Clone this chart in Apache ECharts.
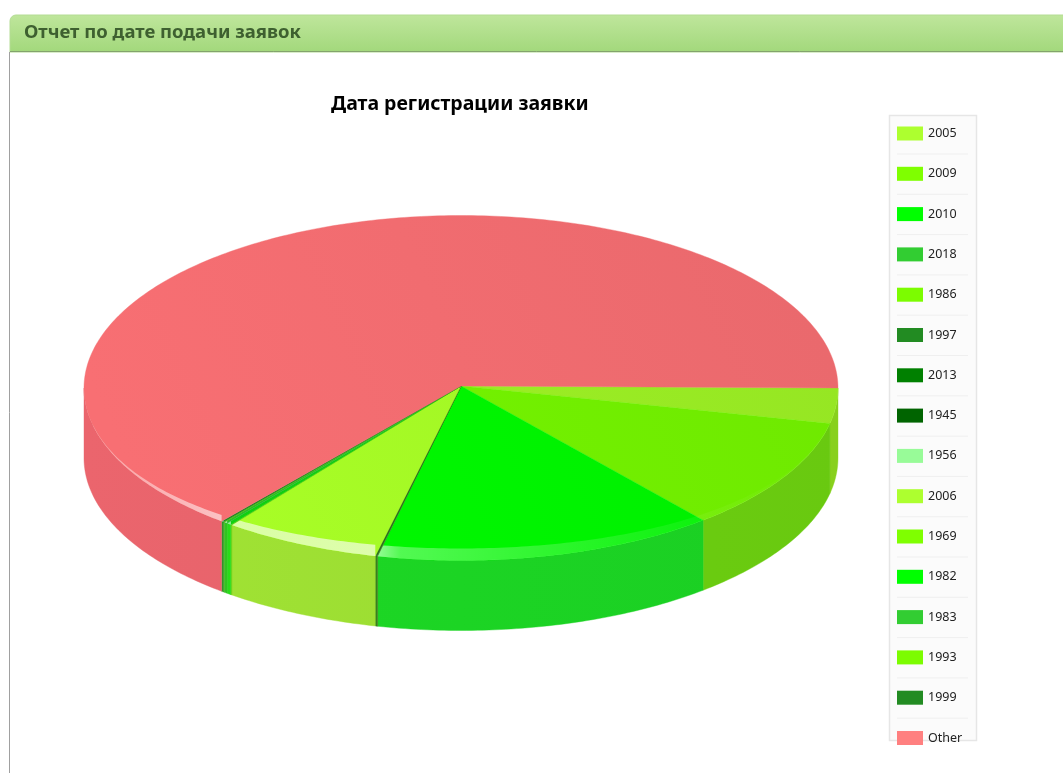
<!DOCTYPE html>
<html>
<head>
<meta charset="utf-8">
<title>Отчет по дате подачи заявок</title>
<style>
html,body{margin:0;padding:0;background:#fff}
#chart{width:1063px;height:773px}
</style>
<script src="https://cdn.jsdelivr.net/npm/echarts@6/dist/echarts.min.js"></script>
</head>
<body>
<div id="chart"></div>
<script>
// Share of applications per registration year, in percent
const years = ['2005','2009','2010','2018','1986','1997','2013','1945','1956','2006','1969','1982','1983','1993','1999','Other'];
const shares = [3.3,10.6,14.65,0.03,0.01,0.02,0.02,0.01,0.01,6.75,0.05,0.2,0.15,0.05,0.1,64.05];
// Legend swatches, then the slightly deeper tones of the lit top face and the shaded wall
const legendColors = ['#adff2f','#7fff00','#00ff00','#32cd32','#7cfc00','#228b22','#008000','#006400','#98fb98','#adff2f','#7fff00','#00ff00','#32cd32','#7cfc00','#228b22','#ff8080'];
const faceColors = ['#9bed24','#72f000','#00f400','#3c7a20','#3c7a20','#2a7020','#1c6a18','#1c6a18','#3c7a20','#a4f825','#5fd000','#10cc10','#28b828','#50c800','#1f8020','#f16c70'];
const wallColors = ['#8cd61e','#6ccf10','#1cd424','#4a8a20','#4a8a20','#3a8020','#2c7a1c','#2c7a1c','#4a8a20','#9cdd32','#6cd010','#28d818','#30c020','#40b018','#2f9428','#e4626a'];

const titleText = 'Дата регистрации заявки';
const headerText = 'Отчет по дате подачи заявок';

// Projection of the disc: tilted ellipse with a wall below its front half
const CX = 461, CY = 388, RX = 377, RY = 172.5, DEPTH = 70, GLARE = 12;

const total = shares.reduce((a, b) => a + b, 0);
const starts = [];
shares.reduce((acc, v, i) => { starts[i] = acc; return acc + v; }, 0);
const toAngle = s => s / total * Math.PI * 2;

function rim(t, ry, dy) {
  return [CX + RX * Math.cos(t), CY + ry * Math.sin(t) + (dy || 0)];
}
function arcAngles(a, b) {
  const n = Math.max(2, Math.ceil((b - a) / 0.015));
  const out = [];
  for (let i = 0; i <= n; i++) out.push(a + (b - a) * i / n);
  return out;
}
function shade(hex, f) {
  const n = parseInt(hex.slice(1), 16);
  const c = [n >> 16, (n >> 8) & 255, n & 255].map(v => Math.min(255, Math.round(v * f)));
  return 'rgb(' + c.join(',') + ')';
}

function renderSlice(params, api) {
  const i = params.seriesIndex;
  const a = toAngle(starts[i]);
  const b = a + toAngle(api.value(0));
  const children = [];

  // Outer wall, only where the slice faces the viewer
  const wb = Math.min(b, Math.PI);
  if (wb > a) {
    const arc = arcAngles(a, wb);
    const upper = arc.map(t => rim(t, RY));
    const lower = arc.slice().reverse().map(t => rim(t, RY, DEPTH));
    const wall = new echarts.graphic.LinearGradient(84, 0, 838, 0, [
      {offset: 0, color: shade(wallColors[i], 1.03)},
      {offset: 1, color: shade(wallColors[i], 0.97)}
    ], true);
    children.push({
      type: 'polygon',
      shape: {points: upper.concat(lower)},
      style: {fill: wall, stroke: wallColors[i], lineWidth: 0.4}
    });
  }

  // Top face, lit from the lower left
  const top = arcAngles(a, b).map(t => rim(t, RY));
  const face = new echarts.graphic.LinearGradient(150, 520, 780, 240, [
    {offset: 0, color: shade(faceColors[i], 1.03)},
    {offset: 1, color: shade(faceColors[i], 0.97)}
  ], true);
  children.push({
    type: 'polygon',
    shape: {points: [[CX, CY - 2]].concat(top)},
    style: {fill: face, stroke: faceColors[i], lineWidth: 0.4}
  });

  // Soft glare running along the front edge of the top face
  if (wb > a) {
    const arc = arcAngles(a, wb);
    const outer = arc.map(t => rim(t, RY));
    const inner = arc.slice().reverse().map(t => {
      return rim(t, RY - GLARE * Math.pow(Math.sin(t), 1.5));
    });
    const glare = new echarts.graphic.LinearGradient(84, 0, 838, 0, [
      {offset: 0, color: 'rgba(255,255,255,0.35)'},
      {offset: 0.19, color: 'rgba(255,255,255,0.58)'},
      {offset: 0.385, color: 'rgba(255,255,255,0.62)'},
      {offset: 0.42, color: 'rgba(255,255,255,0.32)'},
      {offset: 0.68, color: 'rgba(255,255,255,0.14)'},
      {offset: 0.82, color: 'rgba(255,255,255,0.05)'},
      {offset: 1, color: 'rgba(255,255,255,0)'}
    ], true);
    children.push({
      type: 'polygon',
      shape: {points: outer.concat(inner)},
      style: {fill: glare}
    });
  }
  return {type: 'group', children};
}

const chart = echarts.init(document.getElementById('chart'), null, {renderer: 'canvas'});

// Legend panel with a hairline between its rows
const rowLines = years.slice(1).map((_, k) => ({
  type: 'line',
  shape: {x1: 897, y1: 154 + k * 40.3, x2: 968, y2: 154 + k * 40.3},
  style: {stroke: '#efefef', lineWidth: 1}
}));

chart.setOption({
  animation: false,
  backgroundColor: '#ffffff',
  title: [
    {
      text: headerText, left: 24, top: 23, padding: 0,
      textStyle: {fontFamily: 'Noto Sans', fontSize: 18.5, fontWeight: 'bold', color: '#3e6030'}
    },
    {
      text: titleText, left: 331, top: 94, padding: 0,
      textStyle: {fontFamily: 'Noto Sans', fontSize: 19.5, fontWeight: 'bold', color: '#000'}
    }
  ],
  legend: {
    orient: 'vertical',
    left: 897, top: 126.5, padding: 0,
    itemWidth: 26, itemHeight: 14, itemGap: 26.3,
    icon: 'rect',
    selectedMode: false,
    data: years,
    textStyle: {fontFamily: 'Noto Sans', fontSize: 12.5, color: '#222', padding: [4, 0, 0, 0]}
  },
  graphic: [
    {
      type: 'rect', z: -1,
      shape: {x: 10, y: 15, width: 1060, height: 37, r: [6, 0, 0, 0]},
      style: {
        fill: new echarts.graphic.LinearGradient(0, 0, 0, 1, [
          {offset: 0, color: '#bfe69c'},
          {offset: 1, color: '#a2d87b'}
        ]),
        stroke: '#b4dc94', lineWidth: 1
      }
    },
    {
      type: 'line', z: -1,
      shape: {x1: 10, y1: 51.5, x2: 1063, y2: 51.5},
      style: {stroke: '#83a36d', lineWidth: 1}
    },
    {
      type: 'line', z: -1,
      shape: {x1: 9.5, y1: 52, x2: 9.5, y2: 773},
      style: {stroke: '#a0a0a0', lineWidth: 1}
    },
    {
      type: 'rect', z: -1,
      shape: {x: 889.5, y: 115.5, width: 87, height: 625},
      style: {fill: '#fbfbfb', stroke: '#e6e6e6', lineWidth: 1.5}
    },
    ...rowLines
  ],
  series: years.map((name, i) => ({
    type: 'custom',
    name,
    coordinateSystem: 'none',
    itemStyle: {color: legendColors[i]},
    renderItem: renderSlice,
    data: [[shares[i]]],
    silent: true
  }))
});
</script>
</body>
</html>
